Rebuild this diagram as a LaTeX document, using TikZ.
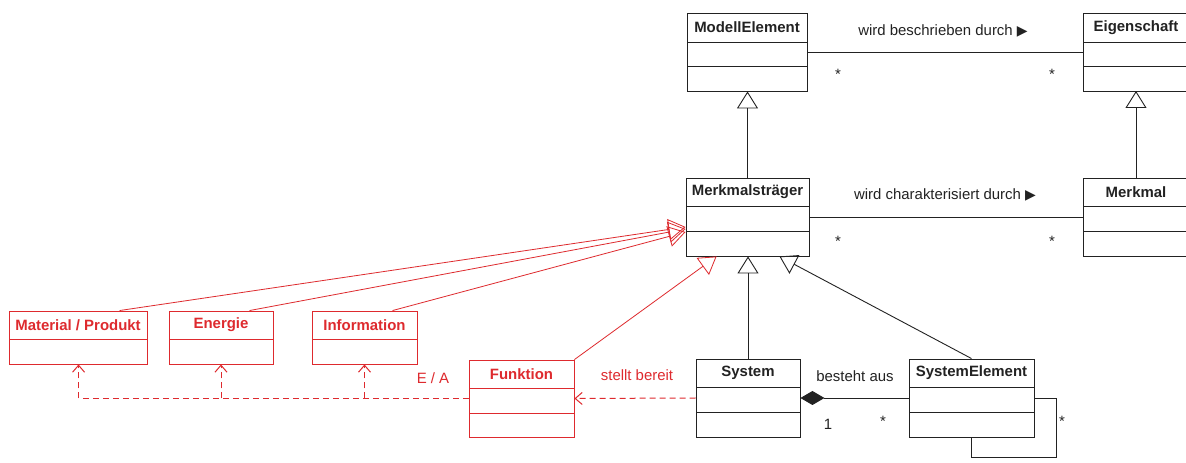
\documentclass[tikz,border=0pt]{standalone}
\usepackage{fontspec}
\setmainfont{Liberation Sans}
\newfontfamily\symfont{DejaVu Sans}
\usetikzlibrary{arrows.meta,fit,calc}

\definecolor{umlred}{RGB}{222,42,46}
\definecolor{umlink}{RGB}{34,34,34}

\tikzset{
  classbox/.style={draw, inner sep=0pt, line width=0.9bp},
  classtitle/.style={font=\fontsize{15}{17}\selectfont\bfseries, inner sep=0pt},
  lbl/.style={font=\fontsize{15}{17}\selectfont, inner sep=0pt, text=umlink},
  redlbl/.style={font=\fontsize{15}{17}\selectfont, inner sep=0pt, text=umlred},
  assoc/.style={draw=umlink, line width=0.9bp},
  gen/.style={draw=umlink, line width=0.9bp, -{Triangle[open,length=17bp,width=21bp]}},
  redgen/.style={draw=umlred, line width=0.8bp, -{Triangle[open,length=17bp,width=21bp]}},
  dep/.style={draw=umlred, line width=1bp, dash pattern=on 6bp off 4bp,
    -{Straight Barb[length=7bp,width=12bp]}},
  compos/.style={draw=umlink, line width=0.9bp, {Diamond[length=24bp,width=14bp]}-},
}

% reading-direction marker of an association name
\newcommand\dirmark{{\symfont\fontsize{14}{16}\selectfont ▶}}

% class box: colour, name, x1, y1, x2, y2, header line, second line, title
\newcommand\umlclass[9]{%
  \node[classbox, draw=#1, fit={(#3,#4) (#5,#6)}] (#2) {};
  \node[classtitle, text=#1] (#2-title) at ({(#3+#5)/2},{(#4+#7)/2}) {#9};
  \draw[#1, line width=0.9bp] (#3,#7) -- (#5,#7);
  \draw[#1, line width=0.9bp] (#3,#8) -- (#5,#8);
}

\begin{document}
\begin{tikzpicture}[x=1bp, y=-1bp]
\useasboundingbox (0,0) rectangle (1186,463);
\clip (0,0) rectangle (1186,463);
\fill[white] (0,0) rectangle (1186,463);

% upper classes
\umlclass{umlink}{me}{687}{13}{807}{91}{42}{66}{ModellElement}
\umlclass{umlink}{eig}{1083}{13}{1189}{91}{42}{66}{Eigenschaft}
\umlclass{umlink}{merk}{686}{178}{809}{256}{206}{231}{Merkmalsträger}
\umlclass{umlink}{mm}{1083}{178}{1189}{256}{206}{231}{Merkmal}

% lower classes
\umlclass{umlink}{sys}{696}{359}{800}{437}{387}{412}{System}
\umlclass{umlink}{sysel}{909}{359}{1034}{437}{387}{412}{SystemElement}
\umlclass{umlred}{funk}{469}{360}{574}{437}{388}{413}{Funktion}
\umlclass{umlred}{mat}{9}{311}{147}{364}{339}{339}{Material / Produkt}
\umlclass{umlred}{en}{169}{311}{273}{364}{339}{339}{Energie}
\umlclass{umlred}{inf}{312}{311}{417}{364}{339}{339}{Information}

% associations
\draw[assoc] (me.east) -- (eig.west);
\draw[assoc] (merk.east) -- (mm.west);
\node[lbl] (l1) at (943,31) {wird beschrieben durch \dirmark};
\node[lbl] (l2) at (945,195) {wird charakterisiert durch \dirmark};
\node[lbl] (s1) at (838,74) {*};
\node[lbl] (s2) at (1052,74) {*};
\node[lbl] (s3) at (838,241) {*};
\node[lbl] (s4) at (1052,241) {*};

% generalizations
\draw[gen] (merk.north) -- (merk.north |- me.south);
\draw[gen] (mm.north -| 1136,0) -- (1136,91);
\draw[gen] (sys.north) -- (sys.north |- merk.south);
\draw[gen] (sysel.north) -- ([xshift=-30bp]merk.south east);
\draw[redgen] ([xshift=111bp]mat.north west) -- ([yshift=-10bp]merk.west);
\draw[redgen] ([xshift=81bp]en.north west) -- ([yshift=-12bp]merk.west);
\draw[redgen] ([xshift=81bp]inf.north west) -- ([yshift=-15bp]merk.west);
\draw[redgen] (funk.north east) -- ([xshift=31bp]merk.south west);

% composition and self association
\draw[compos] (sys.east) -- (sysel.west);
\draw[assoc] (sysel.east) -- ++(22,0) |- ([yshift=-20bp]sysel.south) -- (sysel.south);
\node[lbl] (l3) at (855,376) {besteht aus};
\node[lbl] (m1) at (828,424) {1};
\node[lbl] (m2) at (883,421) {*};
\node[lbl] (m3) at (1062,421) {*};

% dependencies
\draw[dep] (sys.west) -- (funk.east);
\draw[dep] (funk.west) -| ([xshift=70bp]mat.south west);
\draw[dep] (funk.west -| en.south) -- (en.south);
\draw[dep] (funk.west -| inf.south) -- (inf.south);
\node[redlbl] (l4) at (637,375) {stellt bereit};
\node[redlbl] (l5) at (433,378) {E / A};
\end{tikzpicture}
\end{document}
